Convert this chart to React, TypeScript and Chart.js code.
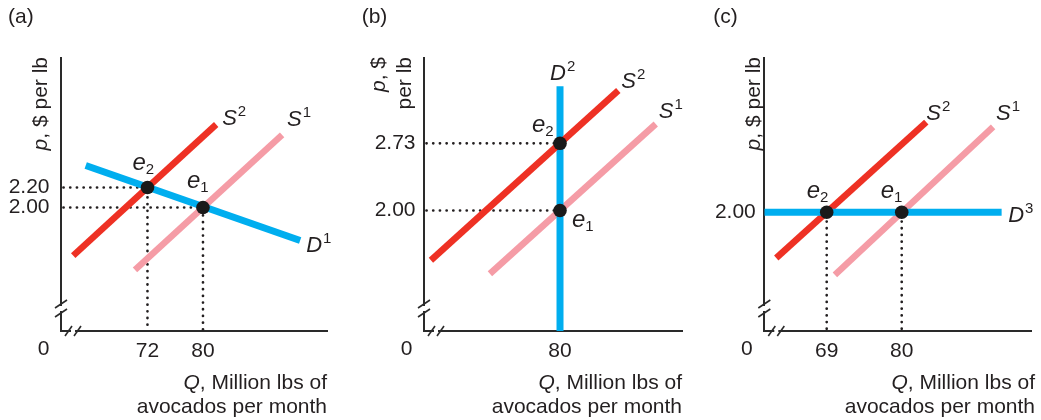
import React, { useEffect, useRef } from "react";
import { Chart, registerables } from "chart.js";

Chart.register(...registerables);

type P = { x: number; y: number };

// ---------- Panel (a): downward-sloping demand D1 ----------
const aXTickValues = [72, 80];
const aXTickLabels = ["72", "80"];
const aYTickValues = [2.0, 2.2];
const aYTickLabels = ["2.00", "2.20"];
const aSupply1: P[] = [{ x: 70.2, y: 1.376 }, { x: 91.4, y: 2.726 }];
const aSupply2: P[] = [{ x: 61.3, y: 1.519 }, { x: 81.9, y: 2.83 }];
const aDemand: P[] = [{ x: 63.1, y: 2.42 }, { x: 94.0, y: 1.67 }];
const aEquilibria: P[] = [{ x: 80, y: 2.0 }, { x: 72, y: 2.2 }]; // e1, e2

// ---------- Panel (b): vertical demand D2 ----------
const bXTickValues = [80];
const bXTickLabels = ["80"];
const bYTickValues = [2.0, 2.73];
const bYTickLabels = ["2.00", "2.73"];
const bSupply1: P[] = [{ x: 69.9, y: 1.313 }, { x: 93.8, y: 2.94 }];
const bSupply2: P[] = [{ x: 61.4, y: 1.46 }, { x: 88.4, y: 3.304 }];
const bDemand: P[] = [{ x: 80, y: 0.691 }, { x: 80, y: 3.35 }];
const bEquilibria: P[] = [{ x: 80, y: 2.0 }, { x: 80, y: 2.73 }];

// ---------- Panel (c): horizontal demand D3 ----------
const cXTickValues = [69, 80];
const cXTickLabels = ["69", "80"];
const cYTickValues = [2.0];
const cYTickLabels = ["2.00"];
const cSupply1: P[] = [{ x: 70.2, y: 1.375 }, { x: 93.4, y: 2.855 }];
const cSupply2: P[] = [{ x: 61.6, y: 1.543 }, { x: 83.6, y: 2.902 }];
const cDemand: P[] = [{ x: 59.85, y: 2.0 }, { x: 94.65, y: 2.0 }];
const cEquilibria: P[] = [{ x: 80, y: 2.0 }, { x: 69, y: 2.0 }];

const FONT = '"Liberation Sans", Arial, Helvetica, sans-serif';
const INK = "#231F20";
const AXIS = "#2a2a2a";
const RED = "#EE3124";
const PINK = "#F59CA6";
const BLUE = "#00AEEF";
const DOT = "#1A1A1A";

type LabelSpec = {
  main: string;
  script: string;
  src: "supply1" | "supply2" | "demand" | "eq";
  idx: number;
  dx: number;
  dy: number;
};

type PanelCfg = {
  id: string;
  left: number;
  width: number;
  axisLeft: number;
  axisRight: number;
  xRange: [number, number];
  yRange: [number, number];
  xTicks: number[];
  xLabels: string[];
  yTicks: number[];
  yLabels: string[];
  yPad: number;
  supply1: P[];
  supply2: P[];
  demand: P[];
  eq: P[];
  guides: "both" | "h" | "v";
  redOverBlue: boolean;
  letter: string;
  letterX: number;
  yTitle: { italic: string; rest: string; x: number }[];
  xTitleRight: number;
  labels: LabelSpec[];
};

const panels: PanelCfg[] = [
  {
    id: "a",
    left: 0,
    width: 350,
    axisLeft: 61,
    axisRight: 327,
    xRange: [59.54, 97.87],
    yRange: [0.765, 3.495],
    xTicks: aXTickValues,
    xLabels: aXTickLabels,
    yTicks: aYTickValues,
    yLabels: aYTickLabels,
    yPad: 11.5,
    supply1: aSupply1,
    supply2: aSupply2,
    demand: aDemand,
    eq: aEquilibria,
    guides: "both",
    redOverBlue: false,
    letter: "(a)",
    letterX: 8,
    yTitle: [{ italic: "p", rest: ", $ per lb", x: 47 }],
    xTitleRight: 327,
    labels: [
      { main: "S", script: "2", src: "supply2", idx: 1, dx: 6, dy: 0 },
      { main: "S", script: "1", src: "supply1", idx: 1, dx: 5, dy: -9 },
      { main: "D", script: "1", src: "demand", idx: 1, dx: 6, dy: 11.5 },
      { main: "e", script: "2", src: "eq", idx: 1, dx: -15, dy: -17.5 },
      { main: "e", script: "1", src: "eq", idx: 0, dx: -16, dy: -19.5 },
    ],
  },
  {
    id: "b",
    left: 350,
    width: 350,
    axisLeft: 74,
    axisRight: 332.7,
    xRange: [60.4, 97.68],
    yRange: [0.691, 3.657],
    xTicks: bXTickValues,
    xLabels: bXTickLabels,
    yTicks: bYTickValues,
    yLabels: bYTickLabels,
    yPad: 8.5,
    supply1: bSupply1,
    supply2: bSupply2,
    demand: bDemand,
    eq: bEquilibria,
    guides: "h",
    redOverBlue: true,
    letter: "(b)",
    letterX: 11.7,
    yTitle: [
      { italic: "p", rest: ", $", x: 34.5 },
      { italic: "", rest: "per lb", x: 60.5 },
    ],
    xTitleRight: 332,
    labels: [
      { main: "D", script: "2", src: "demand", idx: 1, dx: -10, dy: -6 },
      { main: "S", script: "2", src: "supply2", idx: 1, dx: 3, dy: -2.5 },
      { main: "S", script: "1", src: "supply1", idx: 1, dx: 3, dy: -6 },
      { main: "e", script: "2", src: "eq", idx: 1, dx: -28, dy: -11 },
      { main: "e", script: "1", src: "eq", idx: 0, dx: 12, dy: 16.5 },
    ],
  },
  {
    id: "c",
    left: 700,
    width: 341,
    axisLeft: 64.3,
    axisRight: 331.7,
    xRange: [59.85, 99.06],
    yRange: [0.813, 3.543],
    xTicks: cXTickValues,
    xLabels: cXTickLabels,
    yTicks: cYTickValues,
    yLabels: cYTickLabels,
    yPad: 8.5,
    supply1: cSupply1,
    supply2: cSupply2,
    demand: cDemand,
    eq: cEquilibria,
    guides: "v",
    redOverBlue: false,
    letter: "(c)",
    letterX: 13.3,
    yTitle: [{ italic: "p", rest: ", $ per lb", x: 60 }],
    xTitleRight: 335,
    labels: [
      { main: "S", script: "2", src: "supply2", idx: 1, dx: 0, dy: -2 },
      { main: "S", script: "1", src: "supply1", idx: 1, dx: 3, dy: -6.5 },
      { main: "D", script: "3", src: "demand", idx: 1, dx: 6.5, dy: 10 },
      { main: "e", script: "2", src: "eq", idx: 1, dx: -20, dy: -14 },
      { main: "e", script: "1", src: "eq", idx: 0, dx: -21, dy: -14 },
    ],
  },
];

function drawSym(
  ctx: CanvasRenderingContext2D,
  main: string,
  script: string,
  isSub: boolean,
  left: number,
  baseline: number
) {
  const size = isSub ? 24 : 22;
  ctx.font = `italic ${size}px ${FONT}`;
  ctx.textAlign = "left";
  ctx.textBaseline = "alphabetic";
  ctx.fillStyle = INK;
  ctx.fillText(main, left, baseline);
  const w = ctx.measureText(main).width;
  ctx.font = `15px ${FONT}`;
  ctx.fillText(script, left + w + (isSub ? 0 : 1), baseline + (isSub ? 4 : -9));
}

function buildConfig(cfg: PanelCfg): any {
  const [xmin, xmax] = cfg.xRange;
  const [ymin, ymax] = cfg.yRange;

  const guideSets = cfg.eq.map((e) => {
    let pts: P[];
    if (cfg.guides === "both")
      pts = [{ x: xmin, y: e.y }, { x: e.x, y: e.y }, { x: e.x, y: ymin }];
    else if (cfg.guides === "h") pts = [{ x: xmin, y: e.y }, { x: e.x, y: e.y }];
    else pts = [{ x: e.x, y: e.y }, { x: e.x, y: ymin }];
    return {
      data: pts,
      borderColor: INK,
      borderWidth: 2.7,
      borderDash: [0.1, 6.6],
      borderDashOffset: -2.5,
      borderCapStyle: "round",
      pointRadius: 0,
      fill: false,
      tension: 0,
      order: 10,
    };
  });

  const curve = (data: P[], color: string, width: number, order: number) => ({
    data,
    borderColor: color,
    borderWidth: width,
    borderCapStyle: "butt",
    pointRadius: 0,
    fill: false,
    tension: 0,
    order,
  });

  const datasets = [
    {
      data: cfg.eq,
      showLine: false,
      pointRadius: 6.8,
      pointBackgroundColor: DOT,
      pointBorderWidth: 0,
      order: 0,
    },
    curve(cfg.supply1, PINK, 6.5, 5),
    curve(cfg.supply2, RED, 6.5, cfg.redOverBlue ? 1 : 4),
    curve(cfg.demand, BLUE, 7, cfg.redOverBlue ? 3 : 2),
    ...guideSets,
  ];

  const decor = {
    id: "decor" + cfg.id,
    afterDraw(chart: any) {
      const ctx: CanvasRenderingContext2D = chart.ctx;
      const xs = chart.scales.x;
      const ys = chart.scales.y;
      const { left, bottom } = chart.chartArea;
      ctx.save();

      // axis breaks
      ctx.fillStyle = "#fff";
      ctx.fillRect(left - 3, bottom - 25, 6, 5);
      ctx.fillRect(left + 10, bottom - 3, 4, 6);
      ctx.strokeStyle = AXIS;
      ctx.lineWidth = 1.6;
      ctx.lineCap = "butt";
      for (const cy of [bottom - 27, bottom - 18]) {
        ctx.beginPath();
        ctx.moveTo(left - 6, cy + 4);
        ctx.lineTo(left + 6, cy - 4);
        ctx.stroke();
      }
      for (const cx of [left + 7.5, left + 16.5]) {
        ctx.beginPath();
        ctx.moveTo(cx - 3.5, bottom + 5);
        ctx.lineTo(cx + 3.5, bottom - 5);
        ctx.stroke();
      }

      ctx.fillStyle = INK;
      // origin "0"
      ctx.font = `21px ${FONT}`;
      ctx.textAlign = "center";
      ctx.textBaseline = "top";
      ctx.fillText("0", left - 17.5, bottom + 8);

      // panel letter
      ctx.textAlign = "left";
      ctx.textBaseline = "alphabetic";
      ctx.fillText(cfg.letter, cfg.letterX, 23);

      // y title (rotated)
      for (const t of cfg.yTitle) {
        ctx.save();
        ctx.translate(t.x, 57);
        ctx.rotate(-Math.PI / 2);
        ctx.textAlign = "right";
        ctx.textBaseline = "alphabetic";
        ctx.font = `21px ${FONT}`;
        ctx.fillText(t.rest, 0, 0);
        const w = ctx.measureText(t.rest).width;
        if (t.italic) {
          ctx.font = `italic 21px ${FONT}`;
          ctx.fillText(t.italic, -w, 0);
        }
        ctx.restore();
      }

      // x title
      ctx.textAlign = "right";
      ctx.textBaseline = "alphabetic";
      ctx.font = `21px ${FONT}`;
      const rest = ", Million lbs of";
      ctx.fillText(rest, cfg.xTitleRight, 389);
      const wr = ctx.measureText(rest).width;
      ctx.font = `italic 21px ${FONT}`;
      ctx.fillText("Q", cfg.xTitleRight - wr, 389);
      ctx.font = `21px ${FONT}`;
      ctx.fillText("avocados per month", cfg.xTitleRight, 413);

      // curve and equilibrium labels
      for (const l of cfg.labels) {
        const src = l.src === "eq" ? cfg.eq : (cfg as any)[l.src];
        const pt: P = src[l.idx];
        const px = xs.getPixelForValue(pt.x);
        const py = ys.getPixelForValue(pt.y);
        drawSym(ctx, l.main, l.script, l.main === "e", px + l.dx, py + l.dy);
      }
      ctx.restore();
    },
  };

  return {
    type: "line",
    data: { datasets },
    options: {
      animation: false,
      responsive: false,
      events: [],
      layout: {
        padding: { top: 58, left: 0, bottom: 0, right: cfg.width - cfg.axisRight },
      },
      plugins: { legend: { display: false }, tooltip: { enabled: false } },
      scales: {
        x: {
          type: "linear",
          min: xmin,
          max: xmax,
          grid: { display: false, drawTicks: false },
          border: { display: true, color: AXIS, width: 2 },
          ticks: {
            autoSkip: false,
            maxRotation: 0,
            minRotation: 0,
            padding: 8,
            color: INK,
            font: { family: FONT, size: 21 },
            callback: (v: number) => {
              const i = cfg.xTicks.indexOf(v);
              return i >= 0 ? cfg.xLabels[i] : "";
            },
          },
          afterBuildTicks: (s: any) => {
            s.ticks = cfg.xTicks.map((v) => ({ value: v }));
          },
          afterFit: (s: any) => {
            s.height = 420 - 331;
          },
        },
        y: {
          type: "linear",
          min: ymin,
          max: ymax,
          grid: { display: false, drawTicks: false },
          border: { display: true, color: AXIS, width: 2 },
          ticks: {
            autoSkip: false,
            padding: cfg.yPad,
            color: INK,
            font: { family: FONT, size: 21 },
            callback: (v: number) => {
              const i = cfg.yTicks.indexOf(v);
              return i >= 0 ? cfg.yLabels[i] : "";
            },
          },
          afterBuildTicks: (s: any) => {
            s.ticks = cfg.yTicks.map((v) => ({ value: v }));
          },
          afterFit: (s: any) => {
            s.width = cfg.axisLeft;
          },
        },
      },
    },
    plugins: [decor],
  };
}

function Panel({ cfg }: { cfg: PanelCfg }) {
  const ref = useRef<HTMLCanvasElement>(null);
  useEffect(() => {
    if (!ref.current) return;
    const chart = new Chart(ref.current, buildConfig(cfg));
    return () => chart.destroy();
  }, [cfg]);
  return (
    <canvas
      ref={ref}
      width={cfg.width}
      height={420}
      style={{ position: "absolute", left: cfg.left, top: 0, width: cfg.width, height: 420 }}
    />
  );
}

export default function App() {
  return (
    <div
      style={{
        position: "fixed",
        left: 0,
        top: 0,
        width: 1041,
        height: 420,
        background: "#fff",
        overflow: "hidden",
      }}
    >
      {panels.map((p) => (
        <Panel key={p.id} cfg={p} />
      ))}
    </div>
  );
}
